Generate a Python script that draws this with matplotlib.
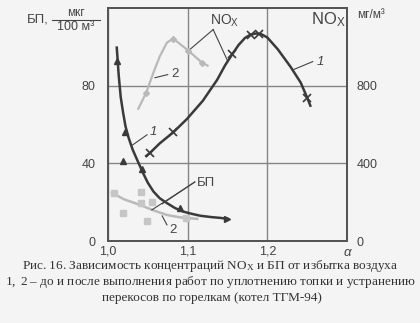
import matplotlib.pyplot as plt
from matplotlib.lines import Line2D

plt.rcParams['font.family'] = ['Liberation Sans', 'DejaVu Sans']
plt.rcParams['mathtext.fontset'] = 'custom'
plt.rcParams['mathtext.rm'] = 'Liberation Serif'
plt.rcParams['mathtext.it'] = 'Liberation Serif:italic'

# curve 1 (before works), dark
bp1_x = [1.011, 1.0135, 1.016, 1.019, 1.022, 1.026, 1.031, 1.038, 1.044, 1.050, 1.057,
         1.065, 1.074, 1.084, 1.094, 1.105, 1.116, 1.13, 1.141, 1.15]
bp1_y = [99.6, 85, 74, 66, 59, 53, 47, 40.5, 35, 30, 25.5, 22, 19.5, 17, 15.2, 14, 13,
         12.3, 11.9, 11.4]
bp1_pts_x = [1.011, 1.021, 1.019, 1.043, 1.091]
bp1_pts_y = [92.5, 56, 41.3, 37, 17]

nox1_x = [1.048, 1.053, 1.065, 1.082, 1.099, 1.119, 1.137, 1.147, 1.156, 1.164, 1.172,
          1.179, 1.186, 1.193, 1.20, 1.213, 1.229, 1.242, 1.25, 1.254]
nox1_y = [438, 455, 503, 560, 628, 722, 830, 905, 962, 1010, 1046, 1063, 1069, 1064, 1048,
          988, 898, 815, 738, 697]
nox1_pts_x = [1.053, 1.082, 1.156, 1.179, 1.189, 1.25]
nox1_pts_y = [455, 560, 962, 1063, 1067, 738]

# curve 2 (after works), light grey
bp2_x = [1.005, 1.02, 1.04, 1.057, 1.074, 1.09, 1.112]
bp2_y = [24.8, 21.5, 18.6, 15.8, 13.4, 12.2, 11.4]
bp2_pts_x = [1.008, 1.041, 1.041, 1.055, 1.019, 1.049, 1.098]
bp2_pts_y = [24.8, 25.3, 19.6, 20.1, 14.4, 10.3, 11.9]

nox2_x = [1.038, 1.048, 1.057, 1.065, 1.074, 1.082, 1.101, 1.118, 1.125]
nox2_y = [681, 764, 867, 951, 1022, 1042, 980, 918, 903]
nox2_pts_x = [1.048, 1.082, 1.101, 1.118]
nox2_pts_y = [764, 1042, 980, 918]

x_ticks = [1.0, 1.1, 1.2]
x_labels = ['1,0', '1,1', '1,2']
left_ticks = [0, 40, 80]
right_ticks = [0, 400, 800]

dark = '#3a3a3a'
light = '#b9b9b9'
bg = '#f4f4f4'

fig = plt.figure(figsize=(4.2, 3.23), dpi=100, facecolor=bg)
ax = fig.add_axes([108 / 420, 82 / 323, 239 / 420, 233 / 323])
ax.set_facecolor(bg)
ax.set_xlim(1.0, 1.3)
ax.set_ylim(0, 120)
ax2 = ax.twinx()
ax2.set_ylim(0, 1200)

for a in (ax, ax2):
    for s in a.spines.values():
        s.set_color('#555555')
        s.set_linewidth(1.4)
ax.set_xticks(x_ticks)
ax.set_xticklabels(x_labels)
ax.set_yticks(left_ticks)
ax2.set_yticks(right_ticks)
ax.tick_params(length=0, labelsize=9, labelcolor='#444444', pad=3)
ax.tick_params(axis='y', pad=9)
ax2.tick_params(length=0, labelsize=9, labelcolor='#444444', pad=7)
ax.grid(True, color='#858585', linewidth=1.0)
ax.set_axisbelow(True)

# BP curves
ax.plot(bp1_x, bp1_y, color=dark, lw=1.8)
ax.plot(bp1_pts_x, bp1_pts_y, '^', color=dark, ms=4.5)
ax.plot([bp1_x[-1]], [bp1_y[-1]], '>', color=dark, ms=5)
ax.plot(bp2_x, bp2_y, color=light, lw=1.8)
ax.plot(bp2_pts_x, bp2_pts_y, 's', color='#c6c6c6', ms=4.5)

# NOx curves
ax2.plot(nox1_x, nox1_y, color=dark, lw=1.8)
ax2.plot(nox1_pts_x, nox1_pts_y, 'x', color=dark, ms=5.5, mew=1.2)
ax2.plot(nox2_x, nox2_y, color=light, lw=1.6)
ax2.plot(nox2_pts_x, nox2_pts_y, 'D', color=light, ms=3)

# labels with leaders
lead = dict(color='#444444', lw=0.8)
ax.text(1.147, 113.5, 'NO$_\\mathregular{X}$', ha='center', va='center', fontsize=10, color='#444444')
ax.plot([1.132, 1.101], [108.9, 98], **lead)
ax.plot([1.132, 1.150], [108.9, 92.9], **lead)
ax.text(1.277, 114, 'NO$_\\mathregular{X}$', ha='center', va='center', fontsize=12, color='#444444')
ax.text(1.084, 86.2, '2', ha='center', va='center', fontsize=9.5, color='#444444')
ax.plot([1.059, 1.075], [84.1, 85.7], **lead)
ax.text(1.266, 92.4, '1', ha='center', va='center', fontsize=9.5, style='italic', color='#444444')
ax.plot([1.233, 1.257], [88.3, 92.4], **lead)
ax.text(1.057, 56, '1', ha='center', va='center', fontsize=9.5, style='italic', color='#444444')
ax.plot([1.031, 1.049], [49.5, 54.7], **lead)
ax.text(1.111, 30, 'БП', ha='left', va='center', fontsize=9.5, color='#444444')
ax.plot([1.109, 1.068], [30.4, 19.1], **lead)
ax.plot([1.109, 1.055], [30.4, 16.0], **lead)
ax.text(1.081, 5.7, '2', ha='center', va='center', fontsize=9.5, color='#444444')
ax.plot([1.068, 1.074], [12.9, 8.3], **lead)

# axis titles
fig.text(347 / 420, 1 - 253 / 323, 'α', ha='center', va='center', fontsize=9.5,
         style='italic', color='#444444')
fig.text(38 / 420, 1 - 19 / 323, 'БП,', ha='center', va='center', fontsize=9.5, color='#444444')
fig.text(76 / 420, 1 - 13 / 323, 'мкг', ha='center', va='center', fontsize=8.5, color='#444444')
fig.text(76 / 420, 1 - 27 / 323, '100 м³', ha='center', va='center', fontsize=9, color='#444444')
fig.add_artist(Line2D([52 / 420, 100 / 420], [1 - 19.5 / 323, 1 - 19.5 / 323],
                      color='#444444', lw=0.8))
fig.text(371 / 420, 1 - 15 / 323, 'мг/м³', ha='center', va='center', fontsize=8.5, color='#444444')

# caption
cap = dict(ha='center', va='center', fontsize=9.5, family='Liberation Serif', color='#333333')
fig.text(210 / 420, 1 - 266 / 323,
         'Рис. 16. Зависимость концентраций NO$_\\mathregular{X}$ и БП от избытка воздуха', **cap)
fig.text(210 / 420, 1 - 282 / 323,
         '$\\mathit{1,\\ 2}$ – до и после выполнения работ по уплотнению топки и устранению', **cap)
fig.text(212 / 420, 1 - 298 / 323, 'перекосов по горелкам (котел ТГМ-94)', **cap)

fig.savefig('out.png', dpi=100, facecolor=bg)
